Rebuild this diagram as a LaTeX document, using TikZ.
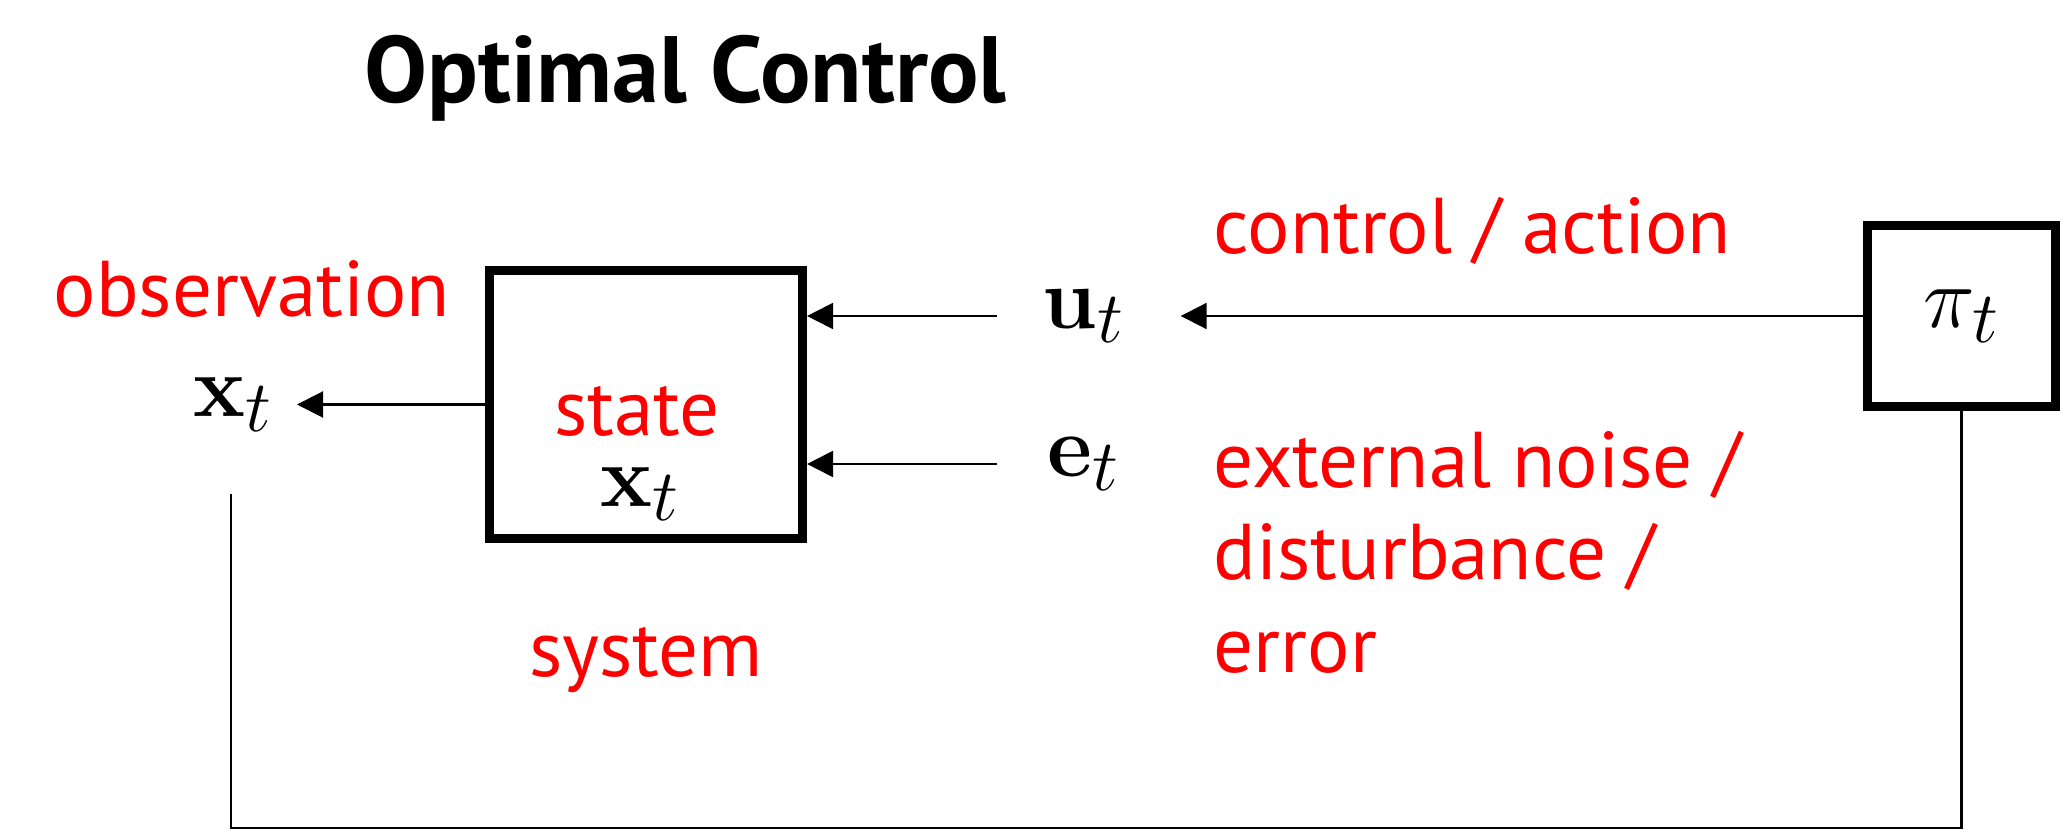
\documentclass[tikz,border=0pt]{standalone}
\usepackage[no-math]{fontspec}
\setmainfont{PT Sans}
\usetikzlibrary{positioning,arrows.meta,calc}

\begin{document}
\begin{tikzpicture}[
      blk/.style={rectangle,draw=black,line width=2.6pt,fill=white,inner sep=0pt},
      sig/.style={inner sep=0pt,minimum width=1.82cm,font=\fontsize{27.5}{32}\selectfont},
      lbl/.style={text=red,inner sep=0pt,font=\fontsize{22.5}{26}\selectfont},
      arr/.style={-{Triangle[length=0.26cm,width=0.26cm]},line width=0.6pt},
      feed/.style={line width=0.6pt}
    ]
    \useasboundingbox (0,0) rectangle (20.67,8.34);
    \node[anchor=base west,inner sep=0pt,font=\fontsize{26.8}{30}\selectfont\bfseries] (title) at (3.64,7.31) {Optimal Control};
    \node[blk,minimum width=3.13cm,minimum height=2.68cm] (sys) at (6.46,4.295) {};
    \node[blk,minimum width=1.88cm,minimum height=1.81cm,font=\fontsize{27.5}{32}\selectfont] (pi) at (19.615,5.18) {\raisebox{-0.12cm}{$\pi_t$}};
    \node[sig] (ut) at (10.89,5.18) {\hspace*{-0.1cm}$\mathbf{u}_t$};
    \node[sig] (et) at (10.89,3.70) {\hspace*{-0.1cm}$\mathbf{e}_t$};
    \node[sig,minimum width=0pt,inner xsep=0.23cm,anchor=east] (xo) at (2.97,4.295) {$\mathbf{x}_t$};
    \node[sig,minimum width=0pt,anchor=base] (xs) at (6.40,3.28) {$\mathbf{x}_t$};
    \coordinate (fbend) at (2.31,3.40);
    % red labels
    \node[lbl,anchor=base west] (obs) at (0.53,5.17) {observation};
    \node[lbl,anchor=base] (state) at (6.37,3.98) {state};
    \node[lbl,anchor=base] (sysl) at (6.46,1.58) {system};
    \node[lbl,anchor=base west] (ctl) at (12.13,5.80) {control / action};
    \node[lbl,anchor=base west,align=left,font=\fontsize{22.5}{26.2}\selectfont] (noise) at (12.13,1.62) {external noise /\\disturbance /\\error};
    % signals
    \draw[arr] (pi.west) -- (ut.east);
    \foreach \s in {ut,et}{
      \draw[arr] (\s.west) -- (\s.west -| sys.east);
    }
    \draw[arr] (sys.west) -- (sys.west -| xo.east);
    \draw[feed] (pi.south) |- (fbend |- 0,0.06) -- (fbend);
  \end{tikzpicture}
\end{document}
